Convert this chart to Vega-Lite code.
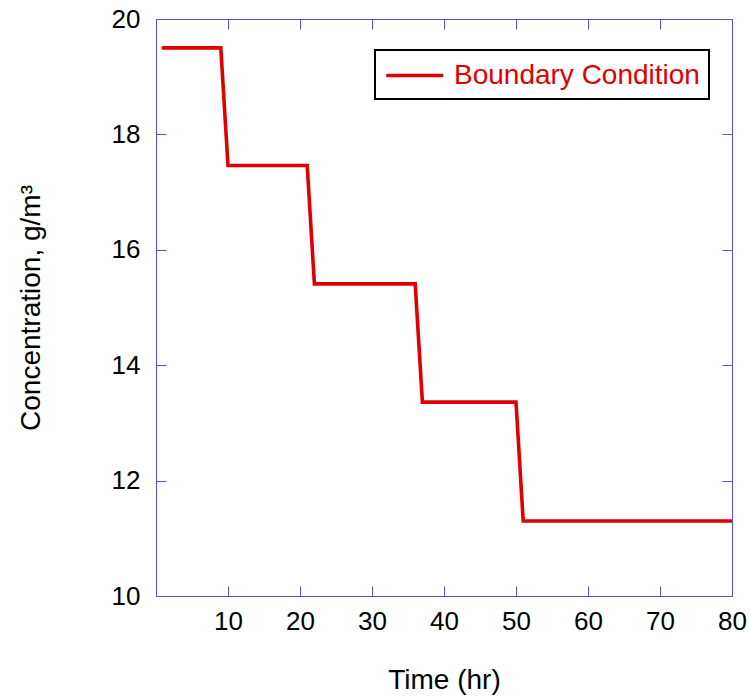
{
  "$schema": "https://vega.github.io/schema/vega-lite/v6.json",
  "autosize": {"type": "none"},
  "padding": {"left": 156, "top": 19, "right": 18, "bottom": 104},
  "width": 576,
  "height": 577,
  "background": "white",
  "config": {
    "view": {"stroke": null},
    "font": "Liberation Sans",
    "legend": {"strokeWidth": 2},
    "axis": {
      "domainColor": "#5050ee",
      "tickColor": "#5050ee",
      "domainWidth": 1,
      "tickWidth": 1,
      "tickSize": -10,
      "grid": false,
      "labelFont": "Liberation Sans",
      "labelFontSize": 26,
      "labelColor": "black",
      "titleFont": "Liberation Sans",
      "titleFontSize": 28,
      "titleFontWeight": "normal",
      "titleColor": "black"
    }
  },
  "data": {
    "values": [
      {"t": 0.8, "c": 19.5, "s": "Boundary Condition"},
      {"t": 9, "c": 19.5, "s": "Boundary Condition"},
      {"t": 10, "c": 17.46, "s": "Boundary Condition"},
      {"t": 21, "c": 17.46, "s": "Boundary Condition"},
      {"t": 22, "c": 15.41, "s": "Boundary Condition"},
      {"t": 36, "c": 15.41, "s": "Boundary Condition"},
      {"t": 37, "c": 13.36, "s": "Boundary Condition"},
      {"t": 50, "c": 13.36, "s": "Boundary Condition"},
      {"t": 51, "c": 11.3, "s": "Boundary Condition"},
      {"t": 80, "c": 11.3, "s": "Boundary Condition"}
    ]
  },
  "resolve": {"axis": {"x": "independent", "y": "independent"}},
  "layer": [
    {
      "mark": {"type": "line", "strokeWidth": 3.6, "clip": false},
      "encoding": {
        "x": {
          "field": "t", "type": "quantitative",
          "scale": {"domain": [0, 80], "nice": false, "zero": false},
          "axis": {"orient": "bottom", "title": "Time (hr)", "values": [10, 20, 30, 40, 50, 60, 70, 80], "labelPadding": 22, "titlePadding": 32, "labelFlush": false}
        },
        "y": {
          "field": "c", "type": "quantitative",
          "scale": {"domain": [10, 20], "nice": false, "zero": false},
          "axis": {"orient": "left", "title": "Concentration, g/m³", "values": [10, 12, 14, 16, 18, 20], "labelPadding": 26, "titlePadding": 66, "labelFlush": false}
        },
        "color": {
          "field": "s", "type": "nominal",
          "scale": {"range": ["#e00000"]},
          "legend": {
            "title": null,
            "orient": "none",
            "legendX": 219,
            "legendY": 31,
            "strokeColor": "black",
            "fillColor": "white",
            "padding": 9,
            "symbolType": "M-1,0H3",
            "symbolSize": 812,
            "symbolStrokeWidth": 3.6,
            "labelColor": "#e00000",
            "labelFont": "Liberation Sans",
            "labelFontSize": 28,
            "labelOffset": 37,
            "labelLimit": 400
          }
        }
      }
    },
    {
      "mark": {"type": "line", "opacity": 0},
      "encoding": {
        "x": {
          "field": "t", "type": "quantitative",
          "axis": {"orient": "top", "title": null, "labels": false, "values": [0, 10, 20, 30, 40, 50, 60, 70, 80]}
        },
        "y": {
          "field": "c", "type": "quantitative",
          "axis": {"orient": "right", "title": null, "labels": false, "values": [10, 12, 14, 16, 18, 20]}
        }
      }
    }
  ]
}
